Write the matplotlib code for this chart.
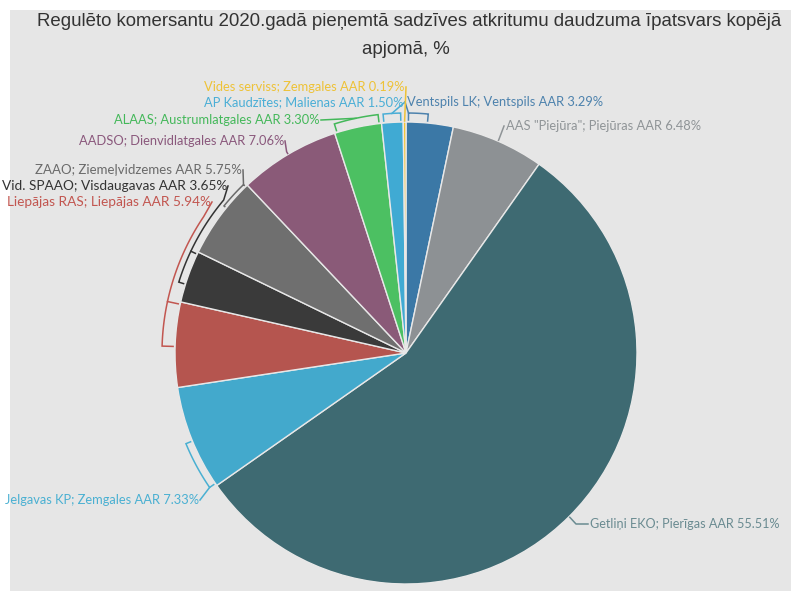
import numpy as np
import matplotlib
matplotlib.use("Agg")
import matplotlib.pyplot as plt

# ---- data ----
companies = ["Ventspils LK", "AAS \"Piejūra\"", "Getliņi EKO", "Jelgavas KP",
             "Liepājas RAS", "Vid. SPAAO", "ZAAO", "AADSO", "ALAAS",
             "AP Kaudzītes", "Vides serviss"]
regions = ["Ventspils AAR", "Piejūras AAR", "Pierīgas AAR", "Zemgales AAR",
           "Liepājas AAR", "Visdaugavas AAR", "Ziemeļvidzemes AAR",
           "Dienvidlatgales AAR", "Austrumlatgales AAR", "Malienas AAR",
           "Zemgales AAR"]
shares = [3.29, 6.48, 55.51, 7.33, 5.94, 3.65, 5.75, 7.06, 3.30, 1.50, 0.19]
title_lines = ["Regulēto komersantu 2020.gadā pieņemtā sadzīves atkritumu daudzuma īpatsvars kopējā",
               "apjomā, %"]

slice_colors = ["#3b78a6", "#8d9194", "#3e6a72", "#43a9cc", "#b5554f",
                "#3a3a3a", "#6f6f6f", "#8a5a78", "#4cc062", "#40aad3", "#f2c531"]
text_colors = ["#4d82ad", "#8f9497", "#6a8b91", "#4ab0d2", "#c25650",
               "#333333", "#6a6a6a", "#8a587c", "#44b85a", "#4aaed6", "#eec236"]

# ---- layout (pixel coords) ----
W, H = 791, 591
CX, CY, R = 406, H - 353, 231

layout = [
    dict(xy=(407, 102), ha="left", br=(0.0, 0.5), rb=240, att=0.0, arc=None, fs=9.3),
    dict(xy=(506, 126), ha="left", br=None, rb=233, att=0.5, arc=None, fs=9.3),
    dict(xy=(590, 524), ha="left", br=None, rb=233, att=0.5, arc=None, elbow=True, fs=9.1),
    dict(xy=(199, 500), ha="right", br=(0.0, 0.5), rb=238, att=0.0, arc=None, fs=9.3),
    dict(xy=(211, 202), ha="right", br=(0.45, 1.0), rb=244, att=1.0, arc=-214, fs=9.8),
    dict(xy=(227, 186), ha="right", br=(0.3, 1.0), rb=238, att=1.0, arc=-220, fs=9.8),
    dict(xy=(242, 170), ha="right", br=(0.6, 1.0), rb=234, att=1.0, arc=None, fs=9.5),
    dict(xy=(284, 141), ha="right", br=None, rb=234, att=0.5, arc=None, fs=9.3),
    dict(xy=(320, 120), ha="right", br=(0.0, 1.0), rb=240, att=0.5, arc=None, fs=9.3),
    dict(xy=(404, 102), ha="right", br=(0.0, 1.0), rb=240, att=0.5, arc=None, fs=9.3),
    dict(xy=(405, 87), ha="right", br=None, rb=232, att=0.5, arc=None, fs=9.3),
]

fig = plt.figure(figsize=(W / 100, H / 100), dpi=100)
fig.patch.set_facecolor("#e6e6e6")
# thin white margin at top and left, as in the screenshot
fig.add_artist(plt.Rectangle((0, 0), 10 / W, 1, transform=fig.transFigure,
                             facecolor="white", edgecolor="none", zorder=0))
fig.add_artist(plt.Rectangle((0, 1 - 10 / H), 1, 10 / H, transform=fig.transFigure,
                             facecolor="white", edgecolor="none", zorder=0))
ax = fig.add_axes([0, 0, 1, 1])
ax.patch.set_alpha(0)

wedges, _ = ax.pie(shares, colors=slice_colors, startangle=90, counterclock=False,
                   center=(CX, CY), radius=R, frame=True,
                   wedgeprops=dict(edgecolor="#e8e8e8", linewidth=1.0))
ax.set_aspect("auto")
ax.set_xlim(0, W)
ax.set_ylim(0, H)
ax.axis("off")

def pt(ang, r):
    a = np.radians(ang)
    return CX + r * np.cos(a), CY + r * np.sin(a)

cum = np.concatenate([[0], np.cumsum(shares)]) / 100.0
for i, lay in enumerate(layout):
    a0 = 90 - 360 * cum[i]
    a1 = 90 - 360 * cum[i + 1]
    col = text_colors[i]
    rb = lay["rb"]
    if lay["br"] is not None:
        f0, f1 = lay["br"]
        b0 = a0 + (a1 - a0) * f0
        b1 = a0 + (a1 - a0) * f1
        if abs(b1 - b0) > 2:
            b0 -= 0.6
            b1 += 0.6
        angs = np.linspace(b0, b1, 40)
        xs = [pt(b0, R + 2)[0]] + [pt(a, rb)[0] for a in angs] + [pt(b1, R + 2)[0]]
        ys = [pt(b0, R + 2)[1]] + [pt(a, rb)[1] for a in angs] + [pt(b1, R + 2)[1]]
        ax.plot(xs, ys, color=col, lw=1.1, solid_joinstyle="miter", zorder=3)
        att = b0 + (b1 - b0) * lay["att"]
    else:
        att = a0 + (a1 - a0) * lay["att"]
    lx, ly = lay["xy"]
    ly = H - ly
    px, py = [], []
    if lay["br"] is None:
        sx, sy = pt(att, R + 1)
        px.append(sx); py.append(sy)
    if lay["arc"] is not None:
        for a in np.linspace(att, lay["arc"], 40):
            x, y = pt(a, rb)
            px.append(x); py.append(y)
    else:
        x, y = pt(att, rb)
        px.append(x); py.append(y)
    if lay.get("elbow"):
        px.append(lx - 14); py.append(ly)
    end_x = lx - 2 if lay["ha"] == "left" else lx + 1
    px.append(end_x); py.append(ly)
    ax.plot(px, py, color=col, lw=1.1, zorder=3)
    ax.text(lx, ly, f"{companies[i]}; {regions[i]} {shares[i]:.2f}%",
            ha=lay["ha"], va="center", color=col, fontsize=lay["fs"],
            family=["Lato", "DejaVu Sans"], zorder=4)

# title: fit first line to the reference width
tfam = ["Liberation Sans", "DejaVu Sans"]
t1 = ax.text(409, H - 22, title_lines[0], ha="center", va="center",
             fontsize=14.5, color="#333333", family=tfam)
fig.canvas.draw()
w = t1.get_window_extent(renderer=fig.canvas.get_renderer()).width
fs = 14.5 * 748.0 / w
t1.set_fontsize(fs)
ax.text(406, H - 50, title_lines[1], ha="center", va="center",
        fontsize=fs, color="#333333", family=tfam)

fig.savefig("out.png", dpi=100, facecolor=fig.get_facecolor())
